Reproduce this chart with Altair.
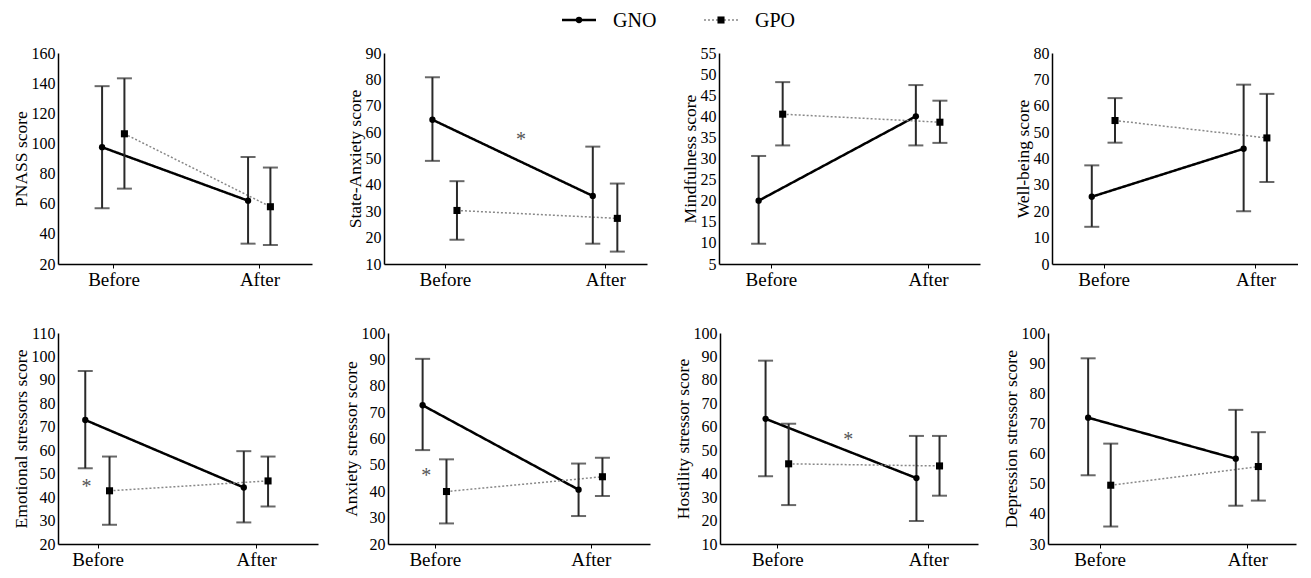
import altair as alt
import pandas as pd

FONT = "Liberation Serif"

series = ["GNO", "GPO"]
time_labels = ["Before", "After"]

titles = ["PNASS score", "State-Anxiety score", "Mindfulness score", "Well-being score",
          "Emotional  stressors score", "Anxiety stressor score", "Hostility stressor score",
          "Depression stressor score"]

# (Before, After) per panel
gno_mean = [(97.5, 62), (64.7, 35.8), (20, 40), (25.5, 43.7), (72.9, 44.1), (72.6, 40.6), (63.4, 38.1), (71.9, 58.3)]
gno_hi = [(138, 91), (80.8, 54.5), (30.6, 47.4), (37.4, 68), (93.8, 59.6), (90.2, 50.5), (88.2, 56.1), (91.6, 74.5)]
gno_lo = [(57, 33.5), (49.1, 17.7), (9.8, 33.1), (14.1, 20), (52.3, 29.2), (55.6, 30.6), (38.9, 19.8), (52.8, 42.7)]
gpo_mean = [(106.4, 58), (30.3, 27.3), (40.5, 38.6), (54.4, 47.8), (42.7, 46.9), (39.9, 45.5), (44.2, 43.3), (49.5, 55.7)]
gpo_hi = [(143.2, 84), (41.4, 40.5), (48.1, 43.7), (62.9, 64.5), (57.3, 57.3), (52.1, 52.7), (61.3, 56.1), (63.3, 67.1)]
gpo_lo = [(70, 32.6), (19.2, 14.7), (33.1, 33.7), (46, 31.1), (28.2, 36), (27.8, 38.2), (26.6, 30.6), (35.8, 44.4)]

y_min = [20, 10, 5, 0, 20, 20, 10, 30]
y_max = [160, 90, 55, 80, 110, 100, 100, 100]
y_step = [20, 10, 5, 10, 10, 10, 10, 10]

# significance asterisks: panel index, time position, value
star_panel = [1, 4, 5, 6]
star_x = [0.475, -0.07, -0.055, 0.47]
star_y = [58.5, 46, 47.4, 56.1]

# layout config
x_dom = [(-0.38, 1.36), (-0.38, 1.26), (-0.33, 1.33), (-0.34, 1.28),
         (-0.25, 1.39), (-0.30, 1.38), (-0.38, 1.33), (-0.35, 1.33)]
widths = [254, 263, 261, 246, 260, 262, 258, 248]
HEIGHT = 211
OFFSETS = {"GNO": -0.078, "GPO": 0.075}

label_expr = "datum.value == 0 ? '%s' : '%s'" % (time_labels[0], time_labels[1])

dash_scale = alt.Scale(domain=series, range=[[1, 0], [1.6, 1.6]])
color_scale = alt.Scale(domain=series, range=["#484848", "#bdbdbd"])
width_scale = alt.Scale(domain=series, range=[1.8, 1.3])
shape_scale = alt.Scale(domain=series, range=["circle", "square"])
size_scale = alt.Scale(domain=series, range=[32, 42])


def panel(i):
    rows = []
    for s, means, his, los in [("GNO", gno_mean, gno_hi, gno_lo), ("GPO", gpo_mean, gpo_hi, gpo_lo)]:
        for t in range(2):
            rows.append(dict(series=s, x=t + OFFSETS[s], mean=means[i][t], hi=his[i][t], lo=los[i][t]))
    df = pd.DataFrame(rows)
    xs = alt.Scale(domain=list(x_dom[i]), nice=False, zero=False)
    ys = alt.Scale(domain=[y_min[i], y_max[i]], nice=False, zero=False)
    xax = alt.Axis(values=[0, 1], labelExpr=label_expr, labelFontSize=19, tickSize=4,
                   tickColor="black", labelPadding=2, domainWidth=1.5, tickWidth=1, grid=False)
    yvals = list(range(y_min[i], y_max[i] + 1, y_step[i]))
    yax = alt.Axis(values=yvals, labelFontSize=16, titleFontSize=17.5, tickSize=0, grid=False,
                   labelPadding=3, titlePadding=1, domainWidth=1.5, titleFontWeight="normal")

    def X(f="x"):
        return alt.X(f + ":Q", scale=xs, axis=xax, title=None)

    def Y(f):
        return alt.Y(f + ":Q", scale=ys, axis=yax, title=titles[i])

    base = alt.Chart(df)
    lines = base.mark_line().encode(
        x=X(), y=Y("mean"),
        detail="series:N",
        color=alt.Color("series:N", scale=color_scale, legend=None),
        strokeDash=alt.StrokeDash("series:N", scale=dash_scale, legend=None),
        strokeWidth=alt.StrokeWidth("series:N", scale=width_scale, legend=None),
    )
    bars = base.mark_rule(color="#2a2a2a", strokeWidth=2).encode(
        x=X(), y=Y("lo"), y2="hi")
    cap_hi = base.mark_tick(orient="horizontal", color="#2a2a2a", size=15, thickness=2).encode(
        x=X(), y=Y("hi"))
    cap_lo = base.mark_tick(orient="horizontal", color="#2a2a2a", size=15, thickness=2).encode(
        x=X(), y=Y("lo"))
    pts = base.mark_point(filled=True, color="black", opacity=1).encode(
        x=X(), y=Y("mean"),
        shape=alt.Shape("series:N", scale=shape_scale, legend=None),
        size=alt.Size("series:N", scale=size_scale, legend=None),
    )
    layers = [lines, bars, cap_hi, cap_lo, pts]
    if i in star_panel:
        k = star_panel.index(i)
        sdf = pd.DataFrame({"x": [star_x[k]], "mean": [star_y[k]], "t": ["*"]})
        star = alt.Chart(sdf).mark_text(font=FONT, fontSize=20, fill="#555555",
                                        baseline="middle", dy=4).encode(
            x=X(), y=Y("mean"), text="t:N")
        layers.append(star)
    return alt.layer(*layers).properties(width=widths[i], height=HEIGHT)


# legend header
leg_df = pd.DataFrame({"series": series, "pos": list(range(len(series)))})
lx = alt.X("pos:Q", scale=alt.Scale(domain=[0, 1], range=[521, 663]), axis=None)
leg_base = alt.Chart(leg_df).encode(x=lx, y=alt.value(12))
leg_line = leg_base.mark_rule(xOffset=-17, x2Offset=17).encode(
    x2=alt.X2("pos:Q"),
    color=alt.Color("series:N", scale=alt.Scale(domain=series, range=["black", "#888888"]), legend=None),
    strokeDash=alt.StrokeDash("series:N", scale=alt.Scale(domain=series, range=[[1, 0], [2, 2]]), legend=None),
    strokeWidth=alt.StrokeWidth("series:N", scale=alt.Scale(domain=series, range=[2.5, 1.5]), legend=None),
)
leg_pts = leg_base.mark_point(filled=True, color="black", opacity=1).encode(
    shape=alt.Shape("series:N", scale=shape_scale, legend=None),
    size=alt.Size("series:N", scale=alt.Scale(domain=series, range=[40, 50]), legend=None),
)
leg_txt = leg_base.mark_text(font=FONT, fontSize=20, align="left", baseline="middle", dx=34, dy=1,
                             color="black").encode(text="series:N")
legend = alt.layer(leg_line, leg_pts, leg_txt).properties(width=800, height=22)

row1 = alt.hconcat(*[panel(i) for i in range(4)], spacing=34)
row2 = alt.hconcat(*[panel(i) for i in range(4, 8)], spacing=24)
grid = alt.vconcat(row1, row2, spacing=36)

chart = alt.vconcat(legend, grid, spacing=14).properties(
    padding={"left": 4, "top": 0, "right": 0, "bottom": 0}
).configure_axis(
    labelFont=FONT, titleFont=FONT, grid=False, domainColor="black",
    labelColor="black", titleColor="black"
).configure_view(stroke=None)

chart.save("out.html", embed_options={"renderer": "svg", "actions": False})
